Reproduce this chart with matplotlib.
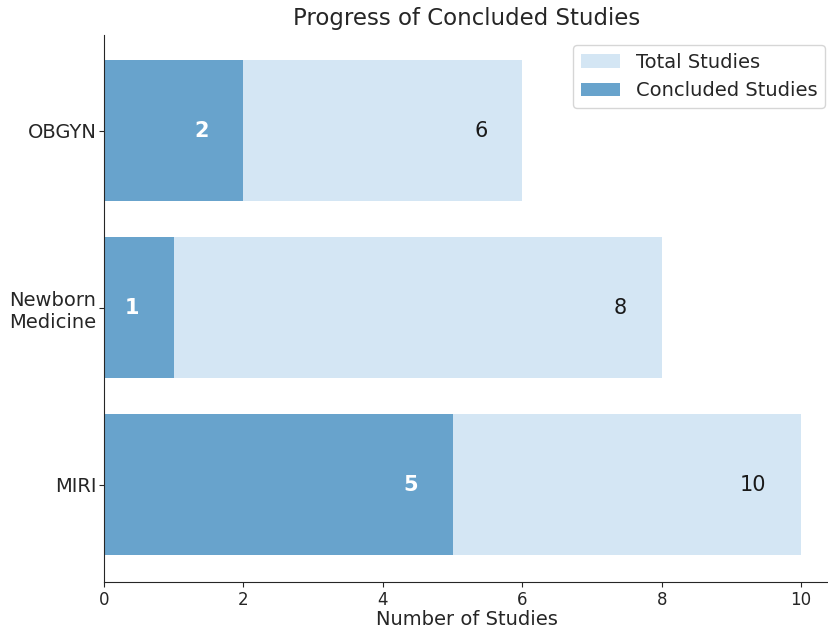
import matplotlib
matplotlib.use("Agg")
import matplotlib.pyplot as plt

departments = ["MIRI", "Newborn\nMedicine", "OBGYN"]
total_studies = [10, 8, 6]
concluded_studies = [5, 1, 2]

ink = '#262626'
plt.rcParams['text.color'] = ink
plt.rcParams['axes.labelcolor'] = ink
plt.rcParams['xtick.color'] = ink
plt.rcParams['ytick.color'] = ink
plt.rcParams['axes.edgecolor'] = ink

fig = plt.figure(figsize=(8.29, 6.32), dpi=100)
ax = fig.add_axes([104/829, 50/632, (829-104)/829, 547/632])

ypos = range(len(departments))
ax.barh(ypos, total_studies, height=0.8, color='#d4e6f4', label='Total Studies')
ax.barh(ypos, concluded_studies, height=0.8, color='#68a3cc', label='Concluded Studies')

# value labels sit just inside the end of each bar
for y, tot, done in zip(ypos, total_studies, concluded_studies):
    ax.text(tot - 0.5, y, str(tot), ha='right', va='center', fontsize=15, color='#1a1a1a')
    ax.text(done - 0.5, y, str(done), ha='right', va='center', fontsize=15,
            color='white', fontweight='bold')

ax.set_yticks(list(ypos))
ax.set_yticklabels(departments, fontsize=14)
ax.tick_params(axis='y', pad=2)
ax.set_xticks([0, 2, 4, 6, 8, 10])
ax.tick_params(axis='x', labelsize=12, pad=3)
ax.set_xlim(0, 10.4)
ax.set_ylim(-0.55, 2.54)
ax.set_xlabel("Number of Studies", fontsize=14, labelpad=1)
ax.set_title("Progress of Concluded Studies", fontsize=16.5, pad=7)
ax.spines['top'].set_visible(False)
ax.spines['right'].set_visible(False)
ax.legend(loc='upper right', fontsize=14, bbox_to_anchor=(1.008, 1.0))

plt.savefig("out.png", dpi=100)
